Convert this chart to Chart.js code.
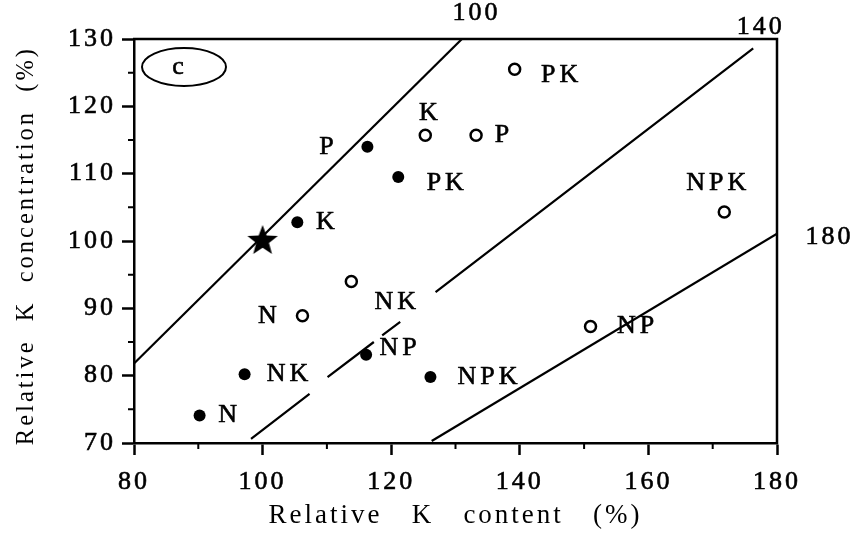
<!DOCTYPE html>
<html>
<head>
<meta charset="utf-8">
<script src="https://cdn.jsdelivr.net/npm/chart.js@4/dist/chart.umd.min.js"></script>
<style>
  html, body { margin: 0; padding: 0; background: #fff; }
  canvas { display: block; }
</style>
</head>
<body>
<canvas id="chart" width="856" height="537"></canvas>
<script>
// Relative K content (x, %) against relative K concentration (y, %)

// Filled markers
const filledLabels = ['N', 'NK', 'NP', 'NPK', 'K', 'P', 'PK'];
const filledX = [90.2, 97.2, 116.1, 126.1, 105.4, 116.3, 121.1];
const filledY = [74.1, 80.2, 83.1, 79.8, 102.8, 114.0, 109.5];

// Open markers
const openLabels = ['N', 'NK', 'K', 'P', 'PK', 'NPK', 'NP'];
const openX = [106.2, 113.8, 125.3, 133.2, 139.2, 171.8, 151.0];
const openY = [88.9, 94.0, 115.7, 115.7, 125.5, 104.3, 87.3];

// Reference treatment (star)
const controlX = [100];
const controlY = [100];

// Isolines (null = break in the drawn line)
const iso100X = [80, 131];
const iso100Y = [81.8, 130];
const iso140X = [98.2, 107.3, null, 110.1, 117.3, null, 118.6, 121.4, null, 126.9, 176.3];
const iso140Y = [70.6, 77.3, null, 79.8, 85.0, null, 86.0, 88.0, null, 92.4, 128.6];
const iso180X = [126.3, 180];
const iso180Y = [70.3, 101.1];
const isoLabels = ['100', '140', '180'];

// Axis ticks
const xTicks = [80, 100, 120, 140, 160, 180];
const yTicks = [70, 80, 90, 100, 110, 120, 130];
const xMinorTicks = [90, 110, 130, 150, 170];
const yMinorTicks = [75, 85, 95, 105, 115, 125];

const panelLabel = 'c';

// ---- styling / placement ----
const FONT = '"Liberation Serif", "Times New Roman", serif';
const INK = '#000';
const TEXT_STROKE = 0.6;
const filledLabelOffsets = [[28, 0], [43, 0], [32, -7], [57, 0], [28, 0], [-41, 0], [47, 6]];
const openLabelOffsets = [[-35, 0], [44, 21], [3, -22], [26, 0], [45, 6], [-8, -29], [45, 0]];
const isoLabelOffsets = [[13, -26], [6, -21], [51, 4]];

const pts = (xs, ys) => xs.map((x, i) => ({ x: x, y: ys[i] }));

function starImage(r) {
  const s = Math.ceil(r * 2 + 2);
  const c = document.createElement('canvas');
  c.width = s; c.height = s;
  const g = c.getContext('2d');
  g.translate(s / 2, s / 2);
  g.beginPath();
  for (let i = 0; i < 10; i++) {
    const rad = i % 2 ? r * 0.42 : r;
    const ang = -Math.PI / 2 + i * Math.PI / 5;
    g.lineTo(rad * Math.cos(ang), rad * Math.sin(ang));
  }
  g.closePath();
  g.fillStyle = INK;
  g.fill();
  return c;
}

// wide letter spacing used by all text in the figure
const spacing = {
  id: 'spacing',
  beforeUpdate(chart) { chart.ctx.letterSpacing = '3px'; },
  beforeDraw(chart) { chart.ctx.letterSpacing = '3px'; }
};

const annotations = {
  id: 'annotations',
  afterDraw(chart) {
    const { ctx, chartArea: a, scales: { x, y } } = chart;
    ctx.save();
    ctx.strokeStyle = INK;
    ctx.fillStyle = INK;
    ctx.lineWidth = 2.5;

    // top and right frame
    ctx.beginPath();
    ctx.moveTo(a.left - 1, a.top);
    ctx.lineTo(a.right, a.top);
    ctx.lineTo(a.right, a.bottom + 1);
    ctx.stroke();

    // minor ticks
    ctx.lineWidth = 2;
    ctx.beginPath();
    xMinorTicks.forEach(v => {
      const px = x.getPixelForValue(v);
      ctx.moveTo(px, a.bottom); ctx.lineTo(px, a.bottom + 6);
    });
    yMinorTicks.forEach(v => {
      const py = y.getPixelForValue(v);
      ctx.moveTo(a.left, py); ctx.lineTo(a.left - 6, py);
    });
    ctx.stroke();

    // panel tag
    ctx.lineWidth = 2;
    ctx.beginPath();
    ctx.ellipse(a.left + 50, a.top + 28, 42, 19, 0, 0, Math.PI * 2);
    ctx.stroke();
    ctx.letterSpacing = '0px';
    ctx.font = '26px ' + FONT;
    ctx.textAlign = 'center';
    ctx.textBaseline = 'middle';
    ctx.lineWidth = TEXT_STROKE;
    ctx.fillText(panelLabel, a.left + 44, a.top + 28);
    ctx.strokeText(panelLabel, a.left + 44, a.top + 28);

    const text = (t, px, py) => { ctx.fillText(t, px, py); ctx.strokeText(t, px, py); };

    // point labels
    ctx.letterSpacing = '4px';
    ctx.font = '26px ' + FONT;
    const put = (labels, xs, ys, offs) => labels.forEach((t, i) => {
      const px = x.getPixelForValue(xs[i]) + offs[i][0];
      const py = y.getPixelForValue(ys[i]) + offs[i][1];
      text(t, px + 2, py);
    });
    put(filledLabels, filledX, filledY, filledLabelOffsets);
    put(openLabels, openX, openY, openLabelOffsets);

    // isoline labels at the upper end of each line
    ctx.letterSpacing = '3px';
    const ends = [
      [iso100X[iso100X.length - 1], iso100Y[iso100Y.length - 1]],
      [iso140X[iso140X.length - 1], iso140Y[iso140Y.length - 1]],
      [iso180X[iso180X.length - 1], iso180Y[iso180Y.length - 1]]
    ];
    isoLabels.forEach((t, i) => {
      const px = x.getPixelForValue(ends[i][0]) + isoLabelOffsets[i][0];
      const py = y.getPixelForValue(ends[i][1]) + isoLabelOffsets[i][1];
      text(t, px + 1.5, py);
    });
    ctx.restore();
  }
};

const lineStyle = {
  type: 'line',
  borderColor: INK,
  borderWidth: 2.2,
  pointRadius: 0,
  fill: false,
  spanGaps: false,
  tension: 0,
  order: 2
};

Chart.defaults.font.family = FONT;
Chart.defaults.color = INK;

new Chart(document.getElementById('chart'), {
  type: 'scatter',
  data: {
    datasets: [
      Object.assign({ label: '100', data: pts(iso100X, iso100Y) }, lineStyle),
      Object.assign({ label: '140', data: pts(iso140X, iso140Y) }, lineStyle),
      Object.assign({ label: '180', data: pts(iso180X, iso180Y) }, lineStyle),
      {
        label: 'filled',
        data: pts(filledX, filledY),
        pointRadius: 6,
        pointBackgroundColor: INK,
        pointBorderColor: INK,
        pointBorderWidth: 0,
        order: 0
      },
      {
        label: 'open',
        data: pts(openX, openY),
        pointRadius: 5.5,
        pointBackgroundColor: '#fff',
        pointBorderColor: INK,
        pointBorderWidth: 2.5,
        order: 0
      },
      {
        label: 'control',
        data: pts(controlX, controlY),
        pointStyle: starImage(16),
        order: 0
      }
    ]
  },
  options: {
    responsive: false,
    animation: false,
    events: [],
    layout: { padding: { left: 0, top: 39, right: 79, bottom: 0 } },
    plugins: {
      legend: { display: false },
      tooltip: { enabled: false }
    },
    scales: {
      x: {
        type: 'linear',
        min: 80,
        max: 180,
        afterBuildTicks: s => { s.ticks = xTicks.map(v => ({ value: v })); },
        afterFit: s => { s.height = 94; },
        ticks: {
          font: { size: 26 }, color: INK, padding: 12, maxRotation: 0, autoSkip: false,
          textStrokeColor: INK, textStrokeWidth: TEXT_STROKE
        },
        grid: { drawOnChartArea: false, drawTicks: true, tickLength: 12, tickWidth: 2.5, tickColor: INK },
        border: { display: true, color: INK, width: 2.5 },
        title: {
          display: true,
          text: 'Relative   K   content   (%)',
          font: { size: 27 },
          color: INK,
          padding: { top: 0, bottom: 5 }
        }
      },
      y: {
        type: 'linear',
        min: 70,
        max: 130,
        afterBuildTicks: s => { s.ticks = yTicks.map(v => ({ value: v })); },
        afterFit: s => { s.width = 134; },
        ticks: {
          font: { size: 26 }, color: INK, padding: 6, autoSkip: false,
          textStrokeColor: INK, textStrokeWidth: TEXT_STROKE
        },
        grid: { drawOnChartArea: false, drawTicks: true, tickLength: 12, tickWidth: 2.5, tickColor: INK },
        border: { display: true, color: INK, width: 2.5 },
        title: {
          display: true,
          text: 'Relative  K  concentration  (%) ',
          font: { size: 24.5 },
          color: INK,
          padding: { top: 12, bottom: 0 }
        }
      }
    }
  },
  plugins: [spacing, annotations]
});
</script>
</body>
</html>
